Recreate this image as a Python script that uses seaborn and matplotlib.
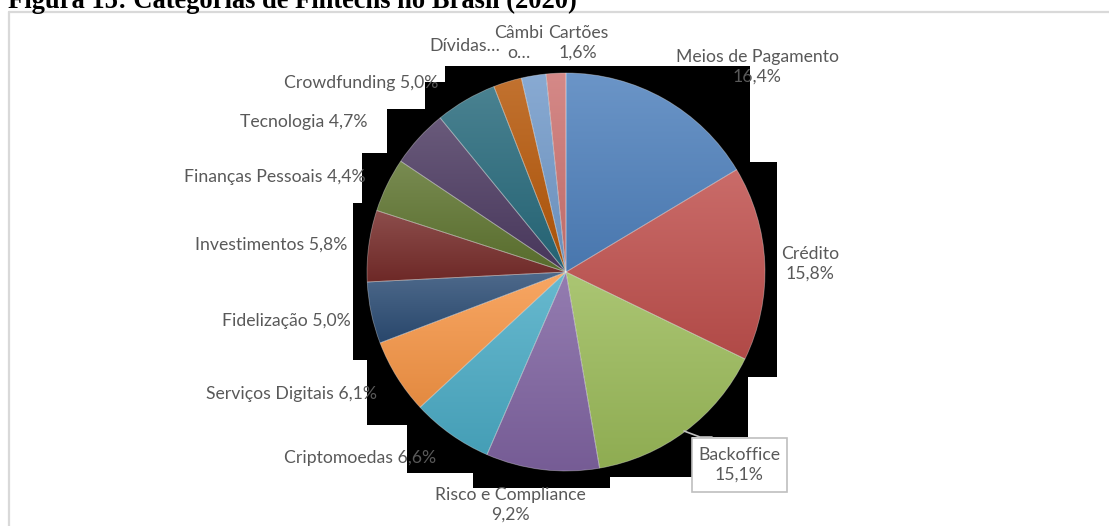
import numpy as np
import matplotlib
matplotlib.use("Agg")
import matplotlib.pyplot as plt
import seaborn as sns
from matplotlib.patches import Polygon, Rectangle
from matplotlib.lines import Line2D
from matplotlib.colors import to_rgb

# ---------------- data ----------------
categorias = ["Meios de Pagamento", "Crédito", "Backoffice", "Risco e Compliance",
              "Criptomoedas", "Serviços Digitais", "Fidelização", "Investimentos",
              "Finanças Pessoais", "Tecnologia", "Crowdfunding", "Dívidas",
              "Câmbio", "Cartões"]
valores = [16.4, 15.8, 15.1, 9.2, 6.6, 6.1, 5.0, 5.8, 4.4, 4.7, 5.0, 2.3, 2.0, 1.6]
rotulos = ["Meios de Pagamento\n16,4%", "Crédito\n15,8%", "Backoffice\n15,1%",
           "Risco e Compliance\n9,2%", "Criptomoedas 6,6%", "Serviços Digitais 6,1%",
           "Fidelização 5,0%", "Investimentos 5,8%", "Finanças Pessoais 4,4%",
           "Tecnologia 4,7%", "Crowdfunding 5,0%", "Dívidas…", "Câmbi\no…",
           "Cartões\n1,6%"]
cores = ["#4F81BD", "#C0504D", "#9BBB59", "#8064A2", "#4BACC6", "#F79646",
         "#2C4D75", "#772C2A", "#5F7530", "#4D3B62", "#276A7C", "#B65708",
         "#729ACA", "#CD7371"]
titulo = "Figura 15: Categorias de Fintechs no Brasil (2020)"

# ---------------- layout (pixels) ----------------
W, H = 1109, 526
cx, cy, R = 566, 272, 199
# label anchor: (x, y, ha)
label_pos = [(757, 67, "center"), (810, 264, "center"), (739, 465, "center"),
             (510, 505, "center"), (436, 458, "right"), (377, 394, "right"),
             (351, 321, "right"), (347, 245, "right"), (366, 177, "right"),
             (368, 122, "right"), (438, 83, "right"), (500, 46, "right"),
             (519, 43, "center"), (578, 43, "center")]
shadow_px = [(445, 66), (750, 66), (750, 162), (777, 162), (777, 377), (748, 377),
             (748, 437), (692, 437), (692, 477), (610, 477), (610, 488), (473, 488),
             (473, 473), (407, 473), (407, 425), (367, 425), (367, 360), (353, 360),
             (353, 203), (362, 203), (362, 153), (387, 153), (387, 109), (425, 109),
             (425, 82), (445, 82)]

sns.set_theme(style="white")
plt.rcParams["font.family"] = ["Lato", "DejaVu Sans"]

fig = plt.figure(figsize=(W / 100, H / 100), dpi=100)
fig.patch.set_facecolor("white")
ax = fig.add_axes([(cx - R) / W, (H - cy - R) / H, 2 * R / W, 2 * R / H])


def d(px, py):
    return ((px - cx) / R, (cy - py) / R)


def f(px, py):
    return (px / W, 1 - py / H)


ax.add_patch(Polygon([d(*p) for p in shadow_px], closed=True, fc="black",
                     ec="none", zorder=0, clip_on=False))

wedges, _ = ax.pie(valores, colors=cores, startangle=90, counterclock=False,
                   radius=1, center=(0, 0),
                   wedgeprops=dict(edgecolor=(1, 1, 1, 0.35), linewidth=0.6))

for w, c in zip(wedges, cores):
    ext = w.get_path().get_extents()
    rgb = np.array(to_rgb(c))
    top = rgb + (1 - rgb) * 0.16
    bot = rgb * 0.92
    t = np.linspace(0, 1, 256)[:, None, None]
    arr = top * (1 - t) + bot * t
    im = ax.imshow(arr, extent=(ext.x0, ext.x1, ext.y0, ext.y1), origin="upper",
                   aspect="auto", zorder=1.5, interpolation="bilinear")
    im.set_clip_path(w)
    w.set_facecolor("none")
    w.set_zorder(2)

ax.set_xlim(-1, 1)
ax.set_ylim(-1, 1)
ax.set_aspect("auto")
ax.axis("off")

# border of chart area
fig.add_artist(Line2D([9 / W, 9 / W], [0, 1 - 12 / H], color="#D9D9D9", lw=1.6))
fig.add_artist(Line2D([9 / W, 1], [1 - 12 / H, 1 - 12 / H], color="#D9D9D9", lw=1.6))

# Backoffice callout box and leader
fig.add_artist(Line2D([684 / W, 700 / W, 712 / W], [1 - 431 / H, 1 - 437 / H, 1 - 437 / H],
                      color="#BFBFBF", lw=1.2, zorder=4))
fig.add_artist(Rectangle(f(692, 492), 95 / W, 54 / H, transform=fig.transFigure,
                         fc="white", ec="#BFBFBF", lw=1.2, zorder=5))

for txt, (x, y, ha) in zip(rotulos, label_pos):
    fig.text(*f(x, y), txt, ha=ha, va="center", fontsize=12.7, color="#595959",
             linespacing=1.25, zorder=6)

fig.text(*f(8, 7.5), titulo, ha="left", va="baseline", fontsize=19.1,
         fontweight="bold", family=["Liberation Serif", "DejaVu Serif"], color="black")

fig.savefig("out.png", dpi=100)
